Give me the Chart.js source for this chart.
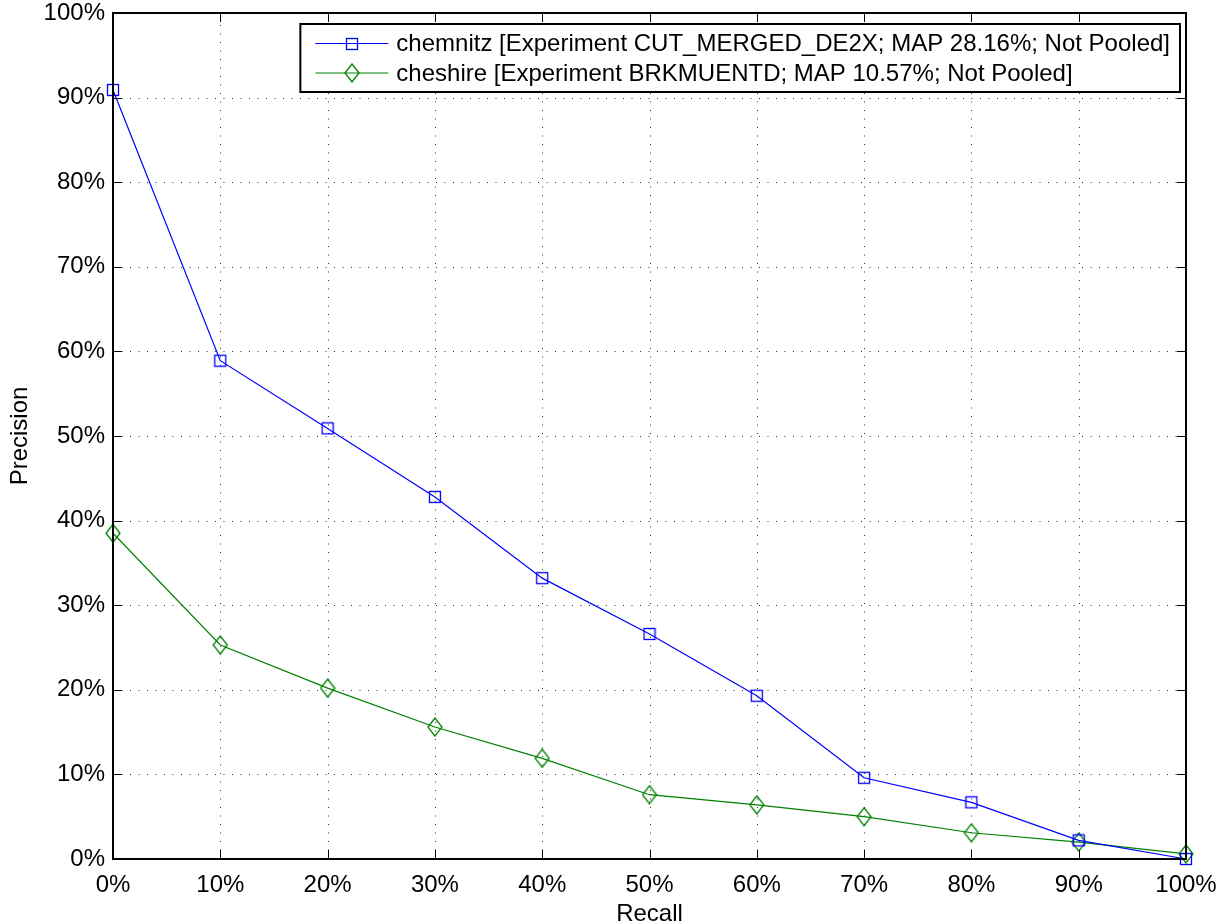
<!DOCTYPE html>
<html>
<head>
<meta charset="utf-8">
<script src="https://cdn.jsdelivr.net/npm/chart.js@4/dist/chart.umd.min.js"></script>
<style>
  html, body { margin: 0; padding: 0; background: #fff; }
  #wrap { width: 1226px; height: 924px; }
</style>
</head>
<body>
<div id="wrap"><canvas id="myChart" width="1226" height="924"></canvas></div>
<script>
// recall levels (x) and precision per run (y), in percent
const recall = [0, 10, 20, 30, 40, 50, 60, 70, 80, 90, 100];
const chemnitz = [90.9, 58.9, 50.9, 42.8, 33.2, 26.6, 19.3, 9.6, 6.7, 2.2, 0.0];
const cheshire = [38.5, 25.3, 20.2, 15.6, 11.9, 7.6, 6.4, 5.0, 3.1, 2.0, 0.6];
const seriesLabels = [
    'chemnitz [Experiment CUT_MERGED_DE2X; MAP 28.16%; Not Pooled]',
    'cheshire [Experiment BRKMUENTD; MAP 10.57%; Not Pooled]'
];
const tickValues = [0, 10, 20, 30, 40, 50, 60, 70, 80, 90, 100];

const FONT = 'Liberation Sans, Arial, sans-serif';

function toPoints(ys) {
    return recall.map((x, i) => ({ x: x, y: ys[i] }));
}

// hollow marker images (matlab look: square, and a diamond a bit taller than wide)
function squareMarker(color) {
    const c = document.createElement('canvas');
    c.width = 14; c.height = 14;
    const g = c.getContext('2d');
    g.strokeStyle = color;
    g.lineWidth = 1.3;
    g.strokeRect(1.5, 1.5, 11, 11);
    return c;
}
function diamondMarker(color) {
    const c = document.createElement('canvas');
    c.width = 16; c.height = 20;
    const g = c.getContext('2d');
    g.strokeStyle = color;
    g.lineWidth = 1.3;
    g.beginPath();
    g.moveTo(8, 1); g.lineTo(15, 10); g.lineTo(8, 19); g.lineTo(1, 10);
    g.closePath();
    g.stroke();
    return c;
}

const blue = '#0000ff';
const green = '#008000';
const markers = [squareMarker(blue), diamondMarker(green)];

const matlabAxes = {
    id: 'matlabAxes',
    beforeDatasetsDraw(chart) {
        // dotted grid
        const { ctx, chartArea: a, scales } = chart;
        ctx.save();
        ctx.strokeStyle = '#333';
        ctx.lineWidth = 1;
        ctx.setLineDash([1, 7.5]);
        tickValues.forEach(v => {
            const px = Math.round(scales.x.getPixelForValue(v)) + 0.5;
            const py = Math.round(scales.y.getPixelForValue(v)) + 0.5;
            ctx.beginPath();
            ctx.moveTo(px, a.bottom); ctx.lineTo(px, a.top);
            ctx.moveTo(a.left, py); ctx.lineTo(a.right, py);
            ctx.stroke();
        });
        ctx.restore();
    },
    afterDatasetsDraw(chart) {
        // box and inward ticks on all four sides
        const { ctx, chartArea: a, scales } = chart;
        ctx.save();
        ctx.strokeStyle = '#000';
        ctx.lineWidth = 1;
        const len = 9;
        tickValues.forEach(v => {
            const px = Math.round(scales.x.getPixelForValue(v)) + 0.5;
            const py = Math.round(scales.y.getPixelForValue(v)) + 0.5;
            ctx.beginPath();
            ctx.moveTo(px, a.bottom); ctx.lineTo(px, a.bottom - len);
            ctx.moveTo(px, a.top); ctx.lineTo(px, a.top + len);
            ctx.moveTo(a.left, py); ctx.lineTo(a.left + len, py);
            ctx.moveTo(a.right, py); ctx.lineTo(a.right - len, py);
            ctx.stroke();
        });
        ctx.lineWidth = 2;
        ctx.strokeRect(a.left, a.top, a.right - a.left, a.bottom - a.top);
        ctx.restore();
    },
    afterDraw(chart) {
        // legend box inside the plot, top right
        const { ctx, chartArea: a } = chart;
        ctx.save();
        ctx.font = '24px ' + FONT;
        const textW = Math.max(...chart.data.datasets.map(d => ctx.measureText(d.label).width));
        const right = a.right - 6;
        const left = right - textW - 106;
        const top = a.top + 11;
        const h = 68;
        ctx.fillStyle = '#fff';
        ctx.fillRect(left, top, right - left, h);
        ctx.strokeStyle = '#000';
        ctx.lineWidth = 2;
        ctx.strokeRect(left, top, right - left, h);
        chart.data.datasets.forEach((d, i) => {
            const cy = top + 19.5 + i * 29.5;
            const x0 = left + 15, x1 = left + 88, mx = left + 52;
            ctx.strokeStyle = d.borderColor;
            ctx.lineWidth = 1.2;
            ctx.beginPath();
            ctx.moveTo(x0, cy); ctx.lineTo(x1, cy);
            ctx.stroke();
            const m = markers[i];
            ctx.drawImage(m, Math.round(mx - m.width / 2), Math.round(cy - m.height / 2));
            ctx.fillStyle = '#000';
            ctx.textBaseline = 'middle';
            ctx.fillText(d.label, left + 96, cy + 1);
        });
        ctx.restore();
    }
};

new Chart(document.getElementById('myChart').getContext('2d'), {
    type: 'line',
    data: {
        datasets: [{
            label: seriesLabels[0],
            data: toPoints(chemnitz),
            borderColor: blue,
            borderWidth: 1.2,
            pointStyle: markers[0],
            pointRadius: 7,
            tension: 0
        }, {
            label: seriesLabels[1],
            data: toPoints(cheshire),
            borderColor: green,
            borderWidth: 1.2,
            pointStyle: markers[1],
            pointRadius: 7,
            tension: 0
        }]
    },
    options: {
        responsive: false,
        animation: false,
        events: [],
        clip: false,
        layout: { padding: { top: 13, right: 40, left: 0, bottom: 0 } },
        plugins: { legend: { display: false }, tooltip: { enabled: false } },
        scales: {
            x: {
                type: 'linear',
                min: 0, max: 100,
                afterBuildTicks: s => { s.ticks = tickValues.map(v => ({ value: v })); },
                afterFit: s => { s.height = 65; s.paddingLeft = 0; s.paddingRight = 0; },
                ticks: {
                    color: '#000',
                    font: { family: FONT, size: 24, lineHeight: 1 },
                    padding: 6,
                    maxRotation: 0,
                    callback: v => v + '%'
                },
                grid: { display: false },
                border: { display: false },
                title: {
                    display: true, text: 'Recall', color: '#000',
                    font: { family: FONT, size: 24, lineHeight: 1 }, padding: { top: 0, bottom: -2 }
                }
            },
            y: {
                type: 'linear',
                min: 0, max: 100,
                afterBuildTicks: s => { s.ticks = tickValues.map(v => ({ value: v })); },
                afterFit: s => { s.width = 113; s.paddingTop = 0; s.paddingBottom = 0; },
                ticks: {
                    color: '#000',
                    font: { family: FONT, size: 24, lineHeight: 1 },
                    padding: 0,
                    callback: v => v + '%'
                },
                grid: { display: false },
                border: { display: false },
                title: {
                    display: true, text: 'Precision', color: '#000',
                    font: { family: FONT, size: 24, lineHeight: 1 }, padding: { top: 8, bottom: 0 }
                }
            }
        }
    },
    plugins: [matlabAxes]
});
</script>
</body>
</html>
